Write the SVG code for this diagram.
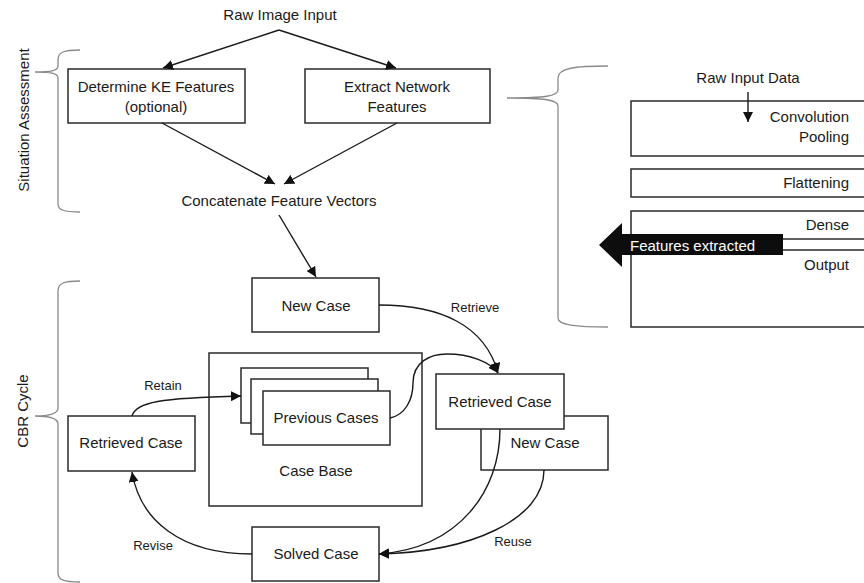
<svg xmlns="http://www.w3.org/2000/svg" width="864" height="583" viewBox="0 0 864 583">
  <style>
    text { font-family: "Liberation Sans", Arial, sans-serif; font-size: 15px; fill: #1a1a1a; }
    .c { text-anchor: middle; }
    .r { text-anchor: end; }
    .lbl { font-size: 13px; }
    .box { fill: #fff; stroke: #2a2a2a; stroke-width: 1.5; }
    .brace { fill: none; stroke: #8a8a8a; stroke-width: 1.3; }
    .conn { fill: none; stroke: #1a1a1a; stroke-width: 1.4; }
  </style>
  <defs>
    <marker id="arrow" viewBox="0 0 10 10" refX="10" refY="5" markerWidth="10" markerHeight="10" markerUnits="userSpaceOnUse" orient="auto">
      <path d="M0,0 L10,5 L0,10 z" fill="#111"/>
    </marker>
  </defs>

  <rect width="864" height="583" fill="#fff"/>

  <!-- braces and group labels -->
  <g id="situation-assessment">
    <path class="brace" d="M80,50 C64,50 58,52 58,60 L58,66 C58,71 50,72 35,72 C50,72 58,73 58,78 L58,204 C58,210 64,212 80,212"/>
    <text transform="translate(29,120) rotate(-90)" class="c">Situation Assessment</text>
  </g>
  <g id="cbr-cycle">
    <path class="brace" d="M80,281 C64,281 58,283 58,291 L58,408 C58,414 50,416 35,416 C50,416 58,418 58,424 L58,573 C58,580 64,582 80,582"/>
    <text transform="translate(28,411) rotate(-90)" class="c">CBR Cycle</text>
  </g>
  <g id="network-brace">
    <path class="brace" d="M608,66 C575,66 558,68 558,78 L558,90 C558,96 545,98 507,98 C545,98 558,100 558,106 L558,318 C558,325 575,327 608,327"/>
  </g>

  <!-- situation assessment -->
  <g id="raw-image-input">
    <text x="280" y="20" class="c">Raw Image Input</text>
  </g>
  <g id="ke-features">
    <rect class="box" x="68" y="69" width="177" height="54"/>
    <text x="156" y="92" class="c">Determine KE Features</text>
    <text x="156" y="112" class="c">(optional)</text>
  </g>
  <g id="network-features">
    <rect class="box" x="305" y="69" width="185" height="54"/>
    <text x="397" y="92" class="c">Extract Network</text>
    <text x="397" y="112" class="c">Features</text>
  </g>
  <g id="concatenate">
    <text x="279" y="206" class="c">Concatenate Feature Vectors</text>
  </g>

  <!-- network layers -->
  <g id="raw-input-data">
    <text x="748" y="83" class="c">Raw Input Data</text>
  </g>
  <g id="conv-pool">
    <rect class="box" x="631" y="101" width="240" height="55"/>
    <text x="849" y="122" class="r">Convolution</text>
    <text x="849" y="142" class="r">Pooling</text>
  </g>
  <g id="flattening">
    <rect class="box" x="631" y="169" width="240" height="28"/>
    <text x="849" y="188" class="r">Flattening</text>
  </g>
  <g id="dense-output">
    <rect class="box" x="631" y="211" width="240" height="116"/>
    <line x1="783" y1="239" x2="871" y2="239" stroke="#2a2a2a" stroke-width="1.5"/>
    <line x1="783" y1="250" x2="871" y2="250" stroke="#2a2a2a" stroke-width="1.5"/>
    <text x="849" y="230" class="r">Dense</text>
    <text x="849" y="270" class="r">Output</text>
  </g>
  <g id="features-extracted">
    <polygon points="599,245 622,223 622,234 783,234 783,255 622,255 622,267" fill="#0d0d0d"/>
    <text x="630" y="251" style="fill:#fff">Features extracted</text>
  </g>

  <!-- CBR cycle -->
  <g id="new-case">
    <rect class="box" x="252" y="278" width="127" height="54"/>
    <text x="316" y="311" class="c">New Case</text>
  </g>
  <g id="case-base">
    <rect class="box" x="209" y="353" width="213" height="153"/>
    <text x="316" y="476" class="c">Case Base</text>
  </g>
  <g id="previous-cases">
    <rect class="box" x="241" y="368" width="127" height="55"/>
    <rect class="box" x="251" y="379" width="127" height="55"/>
    <rect class="box" x="263" y="391" width="127" height="54"/>
    <text x="326" y="423" class="c">Previous Cases</text>
  </g>
  <g id="retrieved-case-left">
    <rect class="box" x="68" y="416" width="127" height="55"/>
    <text x="131" y="448" class="c">Retrieved Case</text>
  </g>
  <g id="new-case-right">
    <rect class="box" x="481" y="416" width="127" height="54"/>
    <text x="545" y="448" class="c">New Case</text>
  </g>
  <g id="retrieved-case-right">
    <rect class="box" x="436" y="374" width="128" height="55"/>
    <text x="500" y="407" class="c">Retrieved Case</text>
  </g>
  <g id="solved-case">
    <rect class="box" x="252" y="527" width="127" height="54"/>
    <text x="316" y="559" class="c">Solved Case</text>
  </g>

  <!-- connectors -->
  <g id="connectors">
    <path class="conn" d="M279,30 L163,68" marker-end="url(#arrow)"/>
    <path class="conn" d="M279,30 L396,68" marker-end="url(#arrow)"/>
    <path class="conn" d="M162,123 L275,184" marker-end="url(#arrow)"/>
    <path class="conn" d="M397,123 L284,184" marker-end="url(#arrow)"/>
    <path class="conn" d="M279,215 L316,277" marker-end="url(#arrow)"/>
    <path class="conn" d="M748,92 L748,122" stroke-width="2" marker-end="url(#arrow)"/>
    <path class="conn" d="M379,305 C440,305 485,325 498,373" marker-end="url(#arrow)"/>
    <path class="conn" d="M390,418 C405,415 413,400 413,383 C413,362 430,354 447,354 C470,354 490,362 498,373" marker-end="url(#arrow)"/>
    <path class="conn" d="M132,416 C136,402 160,398 241,396" marker-end="url(#arrow)"/>
    <path class="conn" d="M252,554 C180,554 140,520 132,472" marker-end="url(#arrow)"/>
    <path class="conn" d="M500,429 C500,490 460,548 379,554" marker-end="url(#arrow)"/>
    <path class="conn" d="M544,470 C544,520 470,552 379,554" marker-end="url(#arrow)"/>
    <text x="475" y="312" class="c lbl">Retrieve</text>
    <text x="163" y="390" class="c lbl">Retain</text>
    <text x="153" y="550" class="c lbl">Revise</text>
    <text x="513" y="546" class="c lbl">Reuse</text>
  </g>
</svg>
